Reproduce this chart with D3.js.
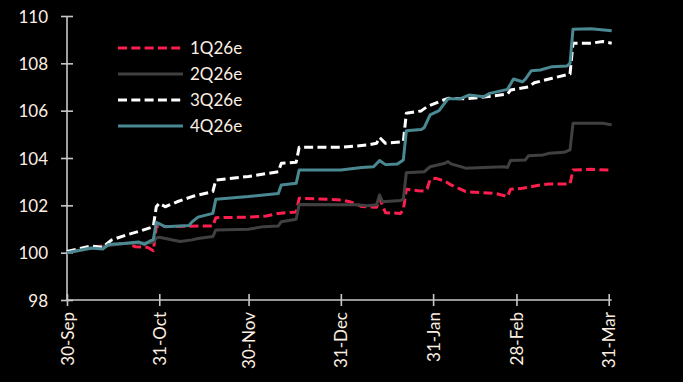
<!DOCTYPE html>
<html>
<head>
<meta charset="utf-8">
<script src="https://cdn.jsdelivr.net/npm/d3@7"></script>
<style>
  html, body { margin: 0; padding: 0; background: #000; }
  svg { display: block; }
  text { font-family: Lato, "Open Sans", sans-serif; }
</style>
</head>
<body>
<svg id="chart" width="683" height="382"></svg>
<script>
// ---------- data ----------
const xTickDates = ["2025-09-30","2025-10-31","2025-11-30","2025-12-31","2026-01-31","2026-02-28","2026-03-31"];
const xTickLabels = ["30-Sep","31-Oct","30-Nov","31-Dec","31-Jan","28-Feb","31-Mar"];
const yTicks = [98, 100, 102, 104, 106, 108, 110];
const seriesNames = ["1Q26e", "2Q26e", "3Q26e", "4Q26e"];

const q1Dates = ["2025-09-30","2025-10-08","2025-10-14","2025-10-20","2025-10-23","2025-10-27","2025-10-29","2025-10-30",
  "2025-11-18","2025-11-19","2025-11-30","2025-12-06","2025-12-10","2025-12-16","2025-12-17","2025-12-31",
  "2026-01-03","2026-01-05","2026-01-07","2026-01-12","2026-01-13","2026-01-15","2026-01-20","2026-01-21","2026-01-22",
  "2026-01-26","2026-01-28","2026-01-29","2026-01-30","2026-02-01","2026-02-04","2026-02-06","2026-02-11","2026-02-21",
  "2026-02-25","2026-02-26","2026-03-02","2026-03-08","2026-03-11","2026-03-18","2026-03-19","2026-03-25","2026-04-01"];
const q1Values = [100.0,100.2,100.33,100.4,100.25,100.23,100.08,101.1,
  101.13,101.48,101.5,101.55,101.66,101.72,102.3,102.23,
  102.15,102.06,101.95,101.92,102.3,101.69,101.66,101.8,102.68,
  102.62,102.6,102.7,103.1,103.14,103.02,102.86,102.58,102.5,
  102.37,102.68,102.72,102.86,102.9,102.9,103.49,103.52,103.49];

const q2Dates = ["2025-09-30","2025-10-08","2025-10-14","2025-10-20","2025-10-28","2025-10-29","2025-10-30","2025-10-31",
  "2025-11-07","2025-11-11","2025-11-13","2025-11-18","2025-11-19","2025-11-30","2025-12-05","2025-12-10","2025-12-11",
  "2025-12-16","2025-12-17","2026-01-05","2026-01-09","2026-01-12","2026-01-13","2026-01-14","2026-01-20","2026-01-21",
  "2026-01-22","2026-01-28","2026-01-30","2026-02-04","2026-02-05","2026-02-06","2026-02-11","2026-02-17","2026-02-24",
  "2026-02-25","2026-02-26","2026-03-03","2026-03-04","2026-03-09","2026-03-11","2026-03-16","2026-03-18","2026-03-19",
  "2026-03-29","2026-04-01"];
const q2Values = [100.0,100.18,100.3,100.4,100.42,100.45,100.62,100.65,
  100.47,100.54,100.6,100.68,100.96,100.99,101.1,101.13,101.31,
  101.41,102.04,102.02,101.98,102.02,102.44,102.15,102.2,102.26,
  103.38,103.42,103.63,103.78,103.85,103.75,103.57,103.6,103.63,
  103.6,103.89,103.92,104.09,104.13,104.2,104.24,104.34,105.47,
  105.47,105.4];

const q3Dates = ["2025-09-30","2025-10-08","2025-10-12","2025-10-15","2025-10-20","2025-10-25","2025-10-29","2025-10-30",
  "2025-10-31","2025-11-02","2025-11-06","2025-11-11","2025-11-18","2025-11-19","2025-11-30","2025-12-10","2025-12-11",
  "2025-12-16","2025-12-17","2025-12-31","2026-01-09","2026-01-12","2026-01-13","2026-01-15","2026-01-21","2026-01-22",
  "2026-01-27","2026-01-29","2026-02-02","2026-02-05","2026-02-11","2026-02-16","2026-02-25","2026-02-26","2026-03-04",
  "2026-03-06","2026-03-12","2026-03-18","2026-03-19","2026-03-25","2026-03-29","2026-04-01"];
const q3Values = [100.05,100.28,100.23,100.54,100.75,100.93,101.1,101.94,
  102.09,101.94,102.15,102.37,102.58,103.07,103.22,103.42,103.78,
  103.82,104.45,104.45,104.55,104.62,104.87,104.62,104.69,105.89,
  105.99,106.17,106.38,106.52,106.5,106.56,106.7,106.87,107.0,
  107.18,107.37,107.55,108.85,108.85,108.92,108.85];

const q4Dates = ["2025-09-30","2025-10-08","2025-10-12","2025-10-14","2025-10-20","2025-10-24","2025-10-26","2025-10-28",
  "2025-10-29","2025-10-30","2025-11-02","2025-11-10","2025-11-11","2025-11-13","2025-11-18","2025-11-19","2025-11-30",
  "2025-12-10","2025-12-11","2025-12-16","2025-12-17","2025-12-31","2026-01-07","2026-01-11","2026-01-13","2026-01-15",
  "2026-01-19","2026-01-21","2026-01-22","2026-01-27","2026-01-28","2026-01-30","2026-02-02","2026-02-03","2026-02-05",
  "2026-02-09","2026-02-12","2026-02-17","2026-02-19","2026-02-25","2026-02-27","2026-03-02","2026-03-03","2026-03-05",
  "2026-03-08","2026-03-12","2026-03-17","2026-03-18","2026-03-19","2026-03-25","2026-04-01"];
const q4Values = [100.0,100.2,100.15,100.35,100.4,100.45,100.35,100.5,
  100.55,101.28,101.1,101.15,101.3,101.5,101.66,102.26,102.37,
  102.5,102.86,102.93,103.49,103.49,103.6,103.63,103.89,103.72,
  103.75,103.92,105.15,105.2,105.28,105.82,106.0,106.17,106.5,
  106.5,106.66,106.59,106.73,106.9,107.34,107.22,107.33,107.69,
  107.72,107.86,107.89,108.0,109.44,109.46,109.38];

// ---------- styles ----------
const seriesStyles = [
  { color: "#ff1f4e", dash: "9,4.3" },
  { color: "#404040", dash: null },
  { color: "#ffffff", dash: "9,4.3" },
  { color: "#4a8892", dash: null }
];
const textColor = "#fcefe2";
const axisColor = "#c8c8c8";

// ---------- build ----------
const parse = d3.utcParse("%Y-%m-%d");
const allDates = [q1Dates, q2Dates, q3Dates, q4Dates];
const allValues = [q1Values, q2Values, q3Values, q4Values];
const series = seriesNames.map((name, i) => ({
  name,
  style: seriesStyles[i],
  points: allDates[i].map((d, j) => ({ date: parse(d), value: allValues[i][j] }))
}));

const svg = d3.select("#chart");
const x = d3.scaleUtc()
  .domain([parse("2025-09-30"), parse("2026-04-01")])
  .range([67, 611.7]);
const y = d3.scaleLinear().domain([98, 110]).range([300, 16]);

// y axis
const yAxis = svg.append("g")
  .attr("transform", "translate(67,0)")
  .call(d3.axisLeft(y).tickValues(yTicks).tickSize(6).tickPadding(13).tickFormat(d3.format("d")));
yAxis.select(".domain").attr("stroke", axisColor).attr("stroke-width", 1.6).attr("d", `M0,${y(110)}V${y(98)}`);
yAxis.selectAll(".tick line").attr("stroke", axisColor).attr("stroke-width", 1.6).attr("x1", 6);
yAxis.selectAll(".tick text").attr("fill", textColor).attr("font-size", 17).attr("dy", "0.36em");

// x axis
const xAxis = svg.append("g")
  .attr("transform", "translate(0,300)")
  .call(d3.axisBottom(x).tickValues(xTickDates.map(parse)).tickSize(6)
        .tickFormat((d, i) => xTickLabels[i]));
xAxis.select(".domain").attr("stroke", axisColor).attr("stroke-width", 1.6).attr("d", `M67,0H611.7`);
xAxis.selectAll(".tick line").attr("stroke", axisColor).attr("stroke-width", 1.6).attr("y1", -6);
xAxis.selectAll(".tick text")
  .attr("fill", textColor).attr("font-size", 17)
  .attr("text-anchor", "end")
  .attr("transform", "rotate(-90)")
  .attr("x", -12).attr("y", 0).attr("dy", "0.36em");

// lines
const line = d3.line().x(d => x(d.date)).y(d => y(d.value));
svg.append("g").selectAll("path").data(series).join("path")
  .attr("d", d => line(d.points))
  .attr("fill", "none")
  .attr("stroke", d => d.style.color)
  .attr("stroke-width", 3)
  .attr("stroke-linejoin", "round")
  .attr("stroke-dasharray", d => d.style.dash);

// legend
const legend = svg.append("g").attr("transform", "translate(118,48)");
const item = legend.selectAll("g").data(series).join("g")
  .attr("transform", (d, i) => `translate(0,${i * 26})`);
item.append("line")
  .attr("x1", 0).attr("x2", 65).attr("y1", 0).attr("y2", 0)
  .attr("stroke", d => d.style.color).attr("stroke-width", 3)
  .attr("stroke-dasharray", d => d.style.dash);
item.append("text")
  .attr("x", 72).attr("y", 0).attr("dy", "0.36em")
  .attr("fill", textColor).attr("font-size", 17)
  .text(d => d.name);
</script>
</body>
</html>
